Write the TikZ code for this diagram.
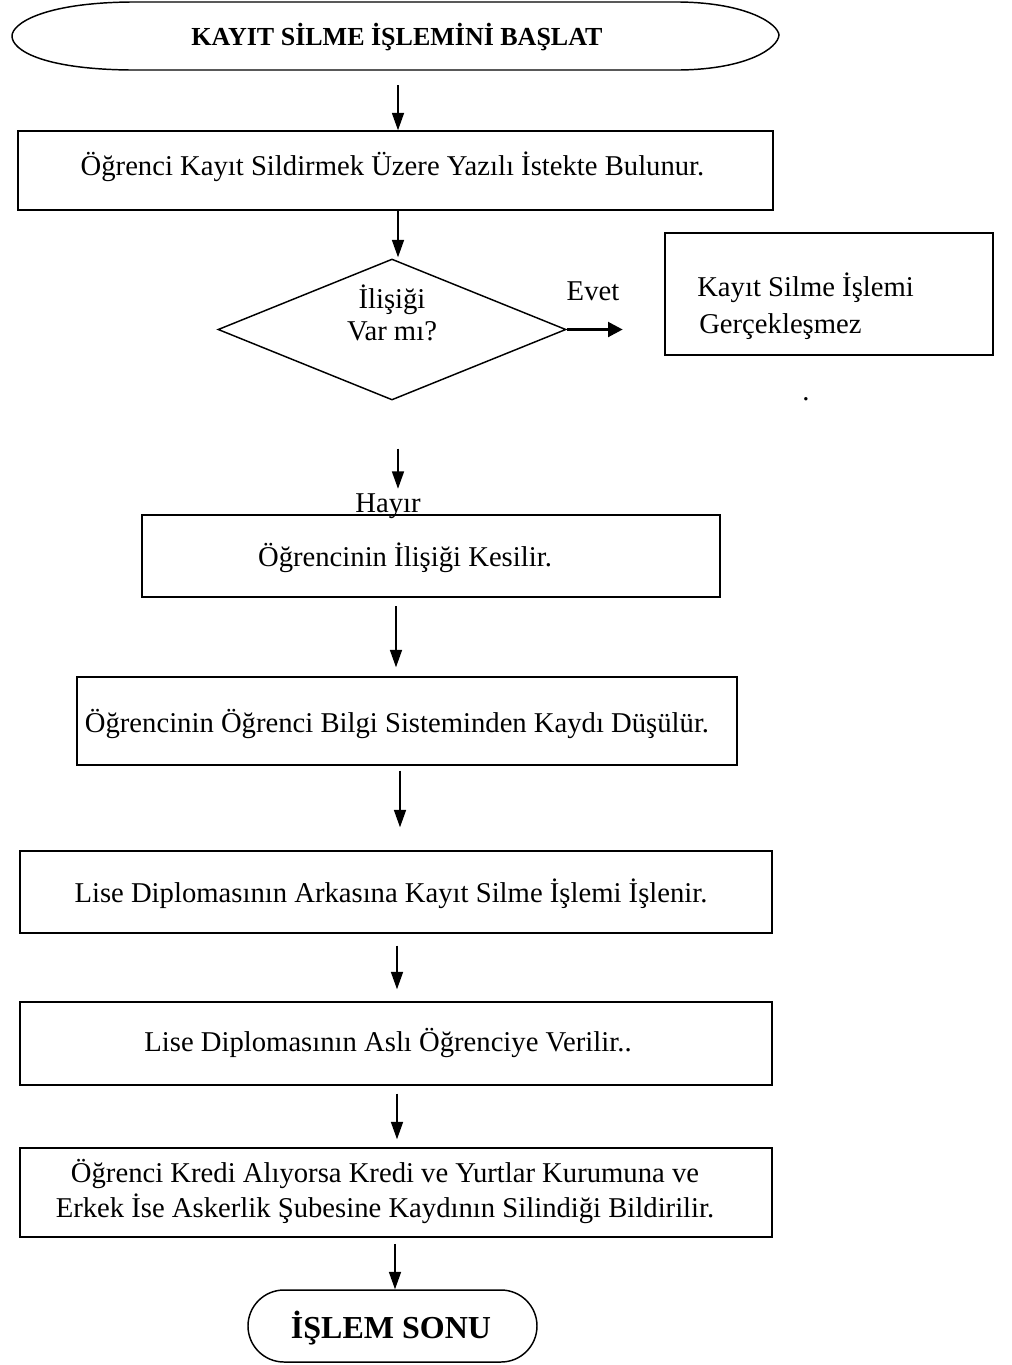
\documentclass[tikz,border=0pt]{standalone}
\usepackage{fontspec}
\setmainfont{Liberation Serif}
\usetikzlibrary{arrows.meta,shapes.geometric,calc}

\begin{document}
\begin{tikzpicture}[x=0.75pt,y=-0.75pt,
  proc/.style={draw,line width=1.1pt,inner sep=0pt},
  shell/.style={inner sep=0pt},
  txt/.style={anchor=base,inner sep=0pt,font=\fontsize{21.5}{25}\selectfont},
  ttl/.style={anchor=base,inner sep=0pt,font=\fontsize{19.5}{23}\selectfont\bfseries},
  arr/.style={line width=1.1pt,-{Triangle[length=13pt,width=9pt]}},
  arrbold/.style={line width=2.2pt,-{Triangle[length=11pt,width=11pt]}}]

% page
\fill[white] (0,0) rectangle (1012,1365);
\useasboundingbox (0,0) rectangle (1012,1365);

% start terminator (elongated oval)
\node[shell,minimum width=574.5pt,minimum height=51pt] (start) at (395,36) {};
\draw[line width=1.1pt]
  (130,2) -- (680,2)
  .. controls (748,3) and (778,24) .. (779,35)
  .. controls (778,48) and (748,69) .. (680,70)
  -- (130,70)
  .. controls (42,69) and (12,50) .. (12,36)
  .. controls (12,24) and (42,3) .. (130,2) -- cycle;
\node[ttl] (title) at (397,45) {KAYIT SİLME İŞLEMİNİ BAŞLAT};

% process boxes
\node[proc,minimum width=566.25pt,minimum height=59.25pt] (b1) at (395.5,170.5) {};
\node[txt] (t1) at (392.5,175) {Öğrenci Kayıt Sildirmek Üzere Yazılı İstekte Bulunur.};

% decision
\node[draw,diamond,line width=1.1pt,inner sep=0pt,minimum width=261pt,minimum height=105.75pt] (dec) at (392,329.5) {};
\node[txt] (d1) at (392,308) {İlişiği};
\node[txt] (d2) at (392,340) {Var mı?};
\node[txt] (evet) at (593,300) {Evet};

\node[proc,minimum width=246pt,minimum height=91.5pt] (rb) at (829,294) {};
\node[txt,anchor=base west] (r1) at (697,296) {Kayıt Silme İşlemi};
\node[txt,anchor=base west] (r2) at (699,333) {Gerçekleşmez};
\node[txt] (dot) at (806,400) {.};

\node[txt] (hayir) at (388,512) {Hayır};

\node[proc,minimum width=433.5pt,minimum height=61.5pt] (b2) at (431,556) {};
\node[txt] (t2) at (405,566) {Öğrencinin İlişiği Kesilir.};

\node[proc,minimum width=495pt,minimum height=66pt] (b3) at (407,721) {};
\node[txt] (t3) at (397,732) {Öğrencinin Öğrenci Bilgi Sisteminden Kaydı Düşülür.};

\node[proc,minimum width=564pt,minimum height=61.5pt] (b4) at (396,892) {};
\node[txt] (t4) at (391,902) {Lise Diplomasının Arkasına Kayıt Silme İşlemi İşlenir.};

\node[proc,minimum width=564pt,minimum height=62.25pt] (b5) at (396,1043.5) {};
\node[txt] (t5) at (388,1051) {Lise Diplomasının Aslı Öğrenciye Verilir..};

\node[proc,minimum width=564pt,minimum height=66.75pt] (b6) at (396,1192.5) {};
\node[txt] (t6a) at (385,1182) {Öğrenci Kredi Alıyorsa Kredi ve Yurtlar Kurumuna ve};
\node[txt] (t6b) at (385,1217) {Erkek İse Askerlik Şubesine Kaydının Silindiği Bildirilir.};

% end terminator
\node[proc,rounded corners=27pt,minimum width=216.75pt,minimum height=54pt] (end) at (392.5,1326) {};
\node[txt,font=\fontsize{24}{28}\selectfont\bfseries] (endt) at (391,1338) {İŞLEM SONU};

% connectors
\draw[arr] ($(start.south)+(3,15)$) -- ($(b1.north)+(2.5,0)$);
\draw[arr] ($(b1.south)+(2.5,0)$) -- ($(dec.north)+(6,-1)$);
\draw[arrbold] (dec.east) -- ($(dec.east)+(56,0)$);
\draw[arr] ($(dec.south)+(6,48)$) -- ($(dec.south)+(6,88)$);
\draw[arr] ($(b2.north)+(-35,92)$) -- ($(b3.north)+(-11,-9)$);
\draw[arr] ($(b3.south)+(-7,5)$) -- ($(b4.north)+(4,-23)$);
\draw[arr] ($(b4.south)+(1,12)$) -- ($(b5.north)+(1,-12)$);
\draw[arr] ($(b5.south)+(1,8)$) -- ($(b6.north)+(1,-8)$);
\draw[arr] ($(b6.south)+(-1,6)$) -- (end.north -| 395,0);
\end{tikzpicture}
\end{document}
